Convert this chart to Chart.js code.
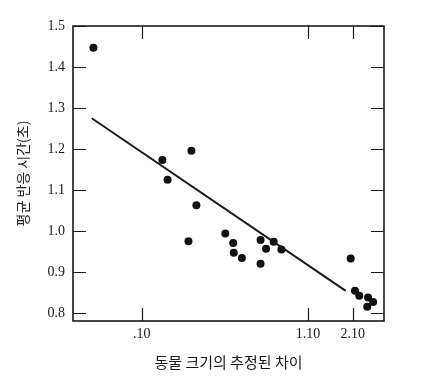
<!DOCTYPE html>
<html>
<head>
<meta charset="utf-8">
<script src="https://cdn.jsdelivr.net/npm/chart.js@4/dist/chart.umd.min.js"></script>
<style>
html,body{margin:0;padding:0;background:#fff;}
#wrap{width:423px;height:379px;position:relative;}
</style>
</head>
<body>
<div id="wrap"><canvas id="c" width="423" height="379"></canvas></div>
<script>
// Data (x: estimated size difference, log scale; y: mean reaction time, s)
const pointX = [0.0497, 0.1345, 0.2046, 0.145, 0.2197, 0.196, 0.3336, 0.374, 0.377, 0.424, 0.555, 0.555, 0.601, 0.671, 0.75, 2.04, 2.17, 2.31, 2.62, 2.82, 2.59];
const pointY = [1.447, 1.173, 1.196, 1.125, 1.063, 0.975, 0.994, 0.971, 0.947, 0.934, 0.978, 0.920, 0.957, 0.974, 0.955, 0.933, 0.854, 0.842, 0.838, 0.827, 0.815];
const fitX = [0.0485, 1.90];
const fitY = [1.275, 0.854];
const xTicks = [0.1, 1.1, 2.1];
const xTickLabels = ['.10', '1.10', '2.10'];
const yTicks = [0.8, 0.9, 1.0, 1.1, 1.2, 1.3, 1.4, 1.5];
const xTitle = '동물 크기의 추정된 차이';
const yTitle = '평균 반응 시간(초)';

const ink = '#1a1a1a';
const serif = "'Liberation Serif','DejaVu Serif',serif";
const kr = "'Noto Sans CJK KR','Noto Sans',sans-serif";

const framePlugin = {
  id: 'frame',
  afterDatasetsDraw(chart) {
    const {ctx, chartArea: a, scales} = chart;
    ctx.save();
    ctx.strokeStyle = ink;
    ctx.lineWidth = 1.6;
    ctx.strokeRect(a.left, a.top, a.right - a.left, a.bottom - a.top);
    ctx.lineWidth = 1.2;
    const tl = 13;
    ctx.beginPath();
    scales.y.ticks.forEach(t => {
      const py = Math.round(scales.y.getPixelForValue(t.value)) + 0.5;
      ctx.moveTo(a.left, py); ctx.lineTo(a.left + tl, py);
      ctx.moveTo(a.right, py); ctx.lineTo(a.right - tl, py);
    });
    scales.x.ticks.forEach(t => {
      const px = Math.round(scales.x.getPixelForValue(t.value)) + 0.5;
      ctx.moveTo(px, a.bottom); ctx.lineTo(px, a.bottom - tl);
      ctx.moveTo(px, a.top); ctx.lineTo(px, a.top + tl);
    });
    ctx.stroke();
    ctx.restore();
  }
};

new Chart(document.getElementById('c'), {
  type: 'scatter',
  data: {
    datasets: [
      {
        type: 'line',
        data: fitX.map((x, i) => ({x, y: fitY[i]})),
        borderColor: ink,
        borderWidth: 2,
        pointRadius: 0,
        fill: false,
        tension: 0
      },
      {
        data: pointX.map((x, i) => ({x, y: pointY[i]})),
        backgroundColor: '#111',
        borderColor: '#111',
        borderWidth: 0,
        pointRadius: 4,
        pointHoverRadius: 4
      }
    ]
  },
  options: {
    responsive: false,
    animation: false,
    devicePixelRatio: 1,
    layout: {padding: {left: 14, right: 39, top: 26, bottom: 8}},
    plugins: {legend: {display: false}, tooltip: {enabled: false}},
    scales: {
      x: {
        type: 'logarithmic',
        min: 0.037,
        max: 3.3,
        afterBuildTicks(s) { s.ticks = xTicks.map(v => ({value: v})); },
        afterFit(s) { s.height = 50; },
        grid: {display: false, drawTicks: false},
        border: {display: false},
        ticks: {
          color: ink,
          font: {family: serif, size: 14},
          padding: 5,
          maxRotation: 0,
          autoSkip: false,
          callback: (v) => { const i = xTicks.indexOf(v); return i >= 0 ? xTickLabels[i] : ''; }
        },
        title: {display: true, text: xTitle, color: ink, font: {family: kr, size: 15}, padding: {top: 4, bottom: 0}}
      },
      y: {
        type: 'linear',
        min: 0.7805,
        max: 1.5,
        afterBuildTicks(s) { s.ticks = yTicks.map(v => ({value: v})); },
        afterFit(s) { s.width = 59; },
        grid: {display: false, drawTicks: false},
        border: {display: false},
        ticks: {
          color: ink,
          font: {family: serif, size: 14},
          padding: 8,
          callback: (v) => Number(v).toFixed(1)
        },
        title: {display: true, text: yTitle, color: ink, font: {family: kr, size: 14}, padding: {top: 0, bottom: 4}}
      }
    }
  },
  plugins: [framePlugin]
});
</script>
</body>
</html>
